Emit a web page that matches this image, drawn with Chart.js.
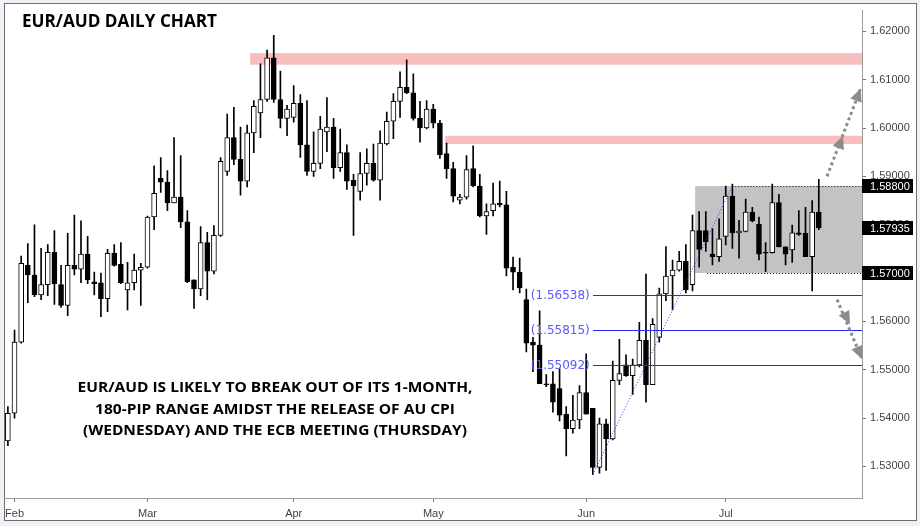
<!DOCTYPE html>
<html>
<head>
<meta charset="utf-8">
<script src="https://cdn.jsdelivr.net/npm/chart.js@4.4.0/dist/chart.umd.min.js"></script>
<style>
  html, body { margin: 0; padding: 0; background: #eef1f5; }
  #wrap { width: 920px; height: 526px; }
</style>
</head>
<body>
<div id="wrap"><canvas id="chart" width="920" height="526"></canvas></div>
<script>
// EUR/AUD daily candles, Jan 31 2018 .. Jul 20 2018
const open = [
  1.5353, 1.5410, 1.5557, 1.5716, 1.5696, 1.5655, 1.5676, 1.5743, 1.5676, 1.5633,
  1.5716, 1.5708, 1.5739, 1.5682, 1.5680, 1.5647, 1.5741, 1.5718, 1.5665, 1.5680,
  1.5706, 1.5712, 1.5816, 1.5896, 1.5888, 1.5845, 1.5857, 1.5806, 1.5686, 1.5667,
  1.5763, 1.5704, 1.5778, 1.5910, 1.5980, 1.5935, 1.5890, 1.5990, 1.6031, 1.6059,
  1.6145, 1.6059, 1.6020, 1.6022, 1.6051, 1.5965, 1.5910, 1.5927, 1.5992, 1.6002,
  1.5918, 1.5949, 1.5892, 1.5869, 1.5906, 1.5927, 1.5892, 1.5967, 1.6014, 1.6055,
  1.6084, 1.6073, 1.6020, 1.6000, 1.6039, 1.6010, 1.5947, 1.5916, 1.5851, 1.5857,
  1.5916, 1.5880, 1.5818, 1.5829, 1.5845, 1.5841, 1.5712, 1.5702, 1.5645, 1.5557,
  1.5551, 1.5471, 1.5471, 1.5461, 1.5408, 1.5378, 1.5396, 1.5453, 1.5420, 1.5298,
  1.5388, 1.5357, 1.5478, 1.5510, 1.5488, 1.5510, 1.5561, 1.5469, 1.5567, 1.5657,
  1.5694, 1.5706, 1.5724, 1.5676, 1.5788, 1.5788, 1.5739, 1.5734, 1.5776, 1.5859,
  1.5783, 1.5786, 1.5826, 1.5801, 1.5742, 1.5742, 1.5846, 1.5754, 1.5748, 1.5783,
  1.5782, 1.5734, 1.5826
];
const high = [
  1.5424, 1.5582, 1.5735, 1.5761, 1.5800, 1.5751, 1.5759, 1.5788, 1.5716, 1.5782,
  1.5820, 1.5808, 1.5776, 1.5702, 1.5700, 1.5749, 1.5759, 1.5763, 1.5722, 1.5739,
  1.5720, 1.5818, 1.5922, 1.5939, 1.5912, 1.5980, 1.5943, 1.5829, 1.5686, 1.5796,
  1.5784, 1.5798, 1.5939, 1.6029, 1.6043, 1.6002, 1.6006, 1.6057, 1.6133, 1.6161,
  1.6192, 1.6118, 1.6047, 1.6088, 1.6069, 1.6057, 1.5992, 1.6024, 1.6063, 1.6020,
  1.5998, 1.5965, 1.5904, 1.5949, 1.5957, 1.5967, 1.5994, 1.6033, 1.6071, 1.6116,
  1.6141, 1.6112, 1.6055, 1.6057, 1.6049, 1.6016, 1.5969, 1.5929, 1.5863, 1.5943,
  1.5963, 1.5904, 1.5843, 1.5886, 1.5890, 1.5869, 1.5733, 1.5731, 1.5667, 1.5567,
  1.5622, 1.5490, 1.5496, 1.5502, 1.5424, 1.5447, 1.5467, 1.5533, 1.5420, 1.5400,
  1.5398, 1.5518, 1.5563, 1.5531, 1.5522, 1.5598, 1.5698, 1.5606, 1.5669, 1.5755,
  1.5727, 1.5745, 1.5759, 1.5820, 1.5827, 1.5827, 1.5792, 1.5812, 1.5880, 1.5884,
  1.5809, 1.5853, 1.5836, 1.5816, 1.5763, 1.5884, 1.5863, 1.5754, 1.5799, 1.5829,
  1.5836, 1.5850, 1.5894
];
const low = [
  1.5343, 1.5400, 1.5555, 1.5639, 1.5651, 1.5645, 1.5653, 1.5635, 1.5629, 1.5612,
  1.5696, 1.5680, 1.5678, 1.5655, 1.5610, 1.5620, 1.5714, 1.5678, 1.5624, 1.5665,
  1.5633, 1.5710, 1.5790, 1.5867, 1.5829, 1.5845, 1.5794, 1.5680, 1.5627, 1.5653,
  1.5645, 1.5698, 1.5776, 1.5902, 1.5924, 1.5861, 1.5878, 1.5949, 1.5980, 1.6055,
  1.6053, 1.6000, 1.5984, 1.6012, 1.5939, 1.5902, 1.5900, 1.5916, 1.5951, 1.5896,
  1.5910, 1.5873, 1.5778, 1.5851, 1.5882, 1.5890, 1.5851, 1.5965, 1.5978, 1.6022,
  1.6071, 1.6016, 1.5971, 1.5998, 1.6000, 1.5937, 1.5896, 1.5847, 1.5843, 1.5853,
  1.5878, 1.5816, 1.5780, 1.5818, 1.5837, 1.5694, 1.5665, 1.5659, 1.5537, 1.5496,
  1.5471, 1.5465, 1.5412, 1.5394, 1.5322, 1.5369, 1.5378, 1.5408, 1.5283, 1.5286,
  1.5292, 1.5355, 1.5469, 1.5486, 1.5449, 1.5506, 1.5433, 1.5469, 1.5557, 1.5643,
  1.5624, 1.5704, 1.5659, 1.5663, 1.5712, 1.5745, 1.5717, 1.5724, 1.5758, 1.5751,
  1.5731, 1.5785, 1.5806, 1.5727, 1.5703, 1.5741, 1.5754, 1.5717, 1.5722, 1.5778,
  1.5734, 1.5663, 1.5790
];
const close = [
  1.5410, 1.5557, 1.5720, 1.5696, 1.5655, 1.5676, 1.5743, 1.5678, 1.5633, 1.5716,
  1.5708, 1.5739, 1.5686, 1.5678, 1.5647, 1.5741, 1.5716, 1.5680, 1.5680, 1.5706,
  1.5712, 1.5816, 1.5865, 1.5888, 1.5845, 1.5857, 1.5806, 1.5682, 1.5667, 1.5763,
  1.5704, 1.5778, 1.5931, 1.5980, 1.5935, 1.5890, 1.5990, 1.6045, 1.6059, 1.6145,
  1.6059, 1.6020, 1.6039, 1.6051, 1.5965, 1.5910, 1.5927, 1.5998, 1.6002, 1.5918,
  1.5949, 1.5890, 1.5880, 1.5906, 1.5927, 1.5892, 1.5969, 1.6014, 1.6055, 1.6084,
  1.6073, 1.6020, 1.6000, 1.6039, 1.6010, 1.5945, 1.5916, 1.5859, 1.5857, 1.5914,
  1.5880, 1.5818, 1.5827, 1.5843, 1.5841, 1.5710, 1.5702, 1.5669, 1.5555, 1.5551,
  1.5471, 1.5469, 1.5433, 1.5406, 1.5378, 1.5396, 1.5453, 1.5408, 1.5298, 1.5388,
  1.5357, 1.5478, 1.5492, 1.5488, 1.5510, 1.5561, 1.5469, 1.5594, 1.5657, 1.5694,
  1.5706, 1.5724, 1.5665, 1.5788, 1.5749, 1.5765, 1.5734, 1.5771, 1.5859, 1.5783,
  1.5787, 1.5826, 1.5808, 1.5739, 1.5741, 1.5846, 1.5754, 1.5739, 1.5783, 1.5780,
  1.5734, 1.5826, 1.57935
];

const firstDay = '2018-01-31';
const slotCount = 129;            // candles plus empty space on the right
const monthTicks = ['2018-02-01', '2018-03-01', '2018-04-02', '2018-05-01', '2018-06-01', '2018-07-02'];
const monthLabels = ['Feb', 'Mar', 'Apr', 'May', 'Jun', 'Jul'];
const priceTicks = [1.53, 1.54, 1.55, 1.56, 1.57, 1.58, 1.59, 1.60, 1.61, 1.62];
const yMin = 1.52347, yMax = 1.62429;

// drawings on the chart
const resistanceZones = [
  { from: 36.45, top: 1.6155, bottom: 1.6131 },
  { from: 65.8, top: 1.5984, bottom: 1.5967 }
];
const rangeBox = { from: 103.4, top: 1.5880, bottom: 1.5700 };
const swingLow = { idx: 88, price: 1.5283 };
const swingHigh = { idx: 109, price: 1.5880 };
const rangeBottomFrom = 105.2;
const fibLevels = [1.56538, 1.55815, 1.55092];
const priceMarkers = [1.58800, 1.57935, 1.57000];
const arrows = [
  [[123.24, 1.5900], [125.65, 1.5984], [128.3, 1.6082]],
  [[124.75, 1.5645], [126.7, 1.5594], [128.5, 1.5522]]
];
const noteLines = [
  'EUR/AUD IS LIKELY TO BREAK OUT OF ITS 1-MONTH,',
  '180-PIP RANGE AMIDST THE RELEASE OF AU CPI',
  '(WEDNESDAY) AND THE ECB MEETING (THURSDAY)'
];

// weekday labels
const dates = [];
for (let d = new Date(firstDay + 'T00:00:00Z'); dates.length < slotCount; d.setUTCDate(d.getUTCDate() + 1)) {
  const wd = d.getUTCDay();
  if (wd !== 0 && wd !== 6) dates.push(d.toISOString().slice(0, 10));
}
const monthIdx = monthTicks.map(m => dates.indexOf(m));

const bodies = open.map((o, i) => [o, close[i]]);
const wicks = low.map((l, i) => [l, high[i]]);

function fitText(ctx, text, x, y, width, align) {
  const w = ctx.measureText(text).width;
  const s = width / w;
  ctx.save();
  ctx.translate(x, y);
  ctx.scale(s, 1);
  ctx.textAlign = align;
  ctx.fillText(text, 0, 0);
  ctx.restore();
}

function arrowHead(ctx, from, to, len, half) {
  const ang = Math.atan2(to[1] - from[1], to[0] - from[0]);
  ctx.beginPath();
  ctx.moveTo(to[0], to[1]);
  ctx.lineTo(to[0] - len * Math.cos(ang) + half * Math.sin(ang), to[1] - len * Math.sin(ang) - half * Math.cos(ang));
  ctx.lineTo(to[0] - len * Math.cos(ang) - half * Math.sin(ang), to[1] - len * Math.sin(ang) + half * Math.cos(ang));
  ctx.closePath();
  ctx.fill();
}

const drawings = {
  id: 'drawings',
  beforeDraw(chart) {
    const { ctx, width, height } = chart;
    ctx.save();
    ctx.fillStyle = '#eef1f5';
    ctx.fillRect(0, 0, width, height);
    ctx.fillStyle = '#fff';
    ctx.fillRect(4, 4, 912, 517);
    ctx.strokeStyle = '#6e6e6e';
    ctx.lineWidth = 1;
    ctx.strokeRect(4.5, 3.5, 912, 517);
    ctx.restore();
  },
  beforeDatasetsDraw(chart) {
    const { ctx, chartArea: a, scales: { x, y } } = chart;
    ctx.save();
    ctx.beginPath();
    ctx.rect(a.left, a.top, a.right - a.left, a.bottom - a.top);
    ctx.clip();

    ctx.fillStyle = 'rgba(240,110,110,0.45)';
    resistanceZones.forEach(z => {
      const x0 = x.getPixelForValue(z.from);
      const t = y.getPixelForValue(z.top), b = y.getPixelForValue(z.bottom);
      ctx.fillRect(x0, t, a.right - x0, b - t);
    });

    const bx = x.getPixelForValue(rangeBox.from);
    const bt = y.getPixelForValue(rangeBox.top), bb = y.getPixelForValue(rangeBox.bottom);
    ctx.fillStyle = '#c3c3c3';
    ctx.fillRect(bx, bt, a.right - bx, bb - bt);
    ctx.restore();
  },
  afterDatasetsDraw(chart) {
    const { ctx, chartArea: a, scales: { x, y } } = chart;
    ctx.save();
    ctx.beginPath();
    ctx.rect(a.left, a.top, a.right - a.left, a.bottom - a.top);
    ctx.clip();

    // range edges
    ctx.strokeStyle = '#000';
    ctx.lineWidth = 1;
    ctx.setLineDash([1, 2]);
    const yt = Math.round(y.getPixelForValue(swingHigh.price)) + 0.5;
    const yb = Math.round(y.getPixelForValue(rangeBox.bottom)) + 0.5;
    ctx.beginPath();
    ctx.moveTo(x.getPixelForValue(swingHigh.idx), yt);
    ctx.lineTo(a.right, yt);
    ctx.moveTo(x.getPixelForValue(rangeBottomFrom), yb);
    ctx.lineTo(a.right, yb);
    ctx.stroke();

    // fib trend line
    ctx.strokeStyle = '#3535ff';
    ctx.beginPath();
    ctx.moveTo(x.getPixelForValue(swingLow.idx), y.getPixelForValue(swingLow.price));
    ctx.lineTo(x.getPixelForValue(swingHigh.idx), y.getPixelForValue(swingHigh.price));
    ctx.stroke();
    ctx.setLineDash([]);

    // fib levels
    const fx = x.getPixelForValue(swingLow.idx);
    ctx.font = '12px "DejaVu Sans"';
    ctx.textBaseline = 'middle';
    fibLevels.forEach(v => {
      const ly = Math.round(y.getPixelForValue(v));
      ctx.fillStyle = '#2828ff';
      ctx.fillRect(Math.round(fx), ly, a.right - Math.round(fx), 1);
      ctx.fillStyle = '#5a5aff';
      ctx.textAlign = 'right';
      ctx.fillText('(' + v.toFixed(5) + ')', fx - 3, ly + 0.5);
    });

    // arrows
    ctx.strokeStyle = '#8c8c8c';
    ctx.fillStyle = '#8c8c8c';
    arrows.forEach(pts => {
      const p = pts.map(q => [x.getPixelForValue(q[0]), y.getPixelForValue(q[1])]);
      ctx.lineWidth = 3;
      ctx.setLineDash([3, 3]);
      ctx.beginPath();
      ctx.moveTo(p[0][0], p[0][1]);
      ctx.lineTo(p[2][0], p[2][1]);
      ctx.stroke();
      ctx.setLineDash([]);
      arrowHead(ctx, p[0], p[1], 13, 6);
      arrowHead(ctx, p[0], p[2], 13, 6);
    });
    ctx.restore();
  },
  afterDraw(chart) {
    const { ctx, chartArea: a, scales: { y } } = chart;
    ctx.save();
    // price markers on the axis
    ctx.font = '11px "Liberation Sans"';
    ctx.textBaseline = 'middle';
    ctx.textAlign = 'left';
    priceMarkers.forEach(v => {
      const py = Math.round(y.getPixelForValue(v));
      ctx.fillStyle = '#000';
      ctx.fillRect(a.right, py - 7, 51, 14);
      ctx.fillStyle = '#fff';
      ctx.fillText(v.toFixed(5), a.right + 8, py + 0.5);
    });

    // title
    ctx.fillStyle = '#000';
    ctx.textBaseline = 'alphabetic';
    ctx.font = 'bold 18.5px "Open Sans"';
    fitText(ctx, 'EUR/AUD DAILY CHART', 22, 27, 195, 'left');

    // note
    ctx.font = 'bold 14px "Open Sans"';
    const widths = [395, 360, 384];
    const base = [392, 413.5, 435];
    noteLines.forEach((t, i) => fitText(ctx, t, 275, base[i], widths[i], 'center'));
    ctx.restore();
  }
};

new Chart(document.getElementById('chart'), {
  type: 'bar',
  data: {
    labels: dates,
    datasets: [
      {
        data: bodies,
        order: 1,
        grouped: false,
        barThickness: 5,
        minBarLength: 1,
        borderSkipped: false,
        borderWidth: 1,
        borderColor: '#000',
        backgroundColor: c => close[c.dataIndex] >= open[c.dataIndex] ? '#fff' : '#000'
      },
      {
        data: wicks,
        order: 2,
        grouped: false,
        barThickness: 1,
        borderWidth: 0,
        backgroundColor: '#000'
      }
    ]
  },
  options: {
    responsive: false,
    devicePixelRatio: 1,
    animation: false,
    layout: { padding: { left: 4, top: 4, right: 4, bottom: 5 } },
    plugins: { legend: { display: false }, tooltip: { enabled: false } },
    scales: {
      x: {
        type: 'category',
        offset: true,
        grid: { drawOnChartArea: false, offset: false, tickLength: 4, color: '#777' },
        border: { display: true, color: '#9a9a9a' },
        ticks: {
          autoSkip: false,
          maxRotation: 0,
          padding: 5,
          color: '#444',
          font: { family: 'Liberation Sans', size: 11 },
          callback: (v, i) => monthLabels[i]
        },
        afterBuildTicks: s => { s.ticks = monthIdx.map(i => ({ value: i })); },
        afterFit: s => { s.height = 23; }
      },
      y: {
        type: 'linear',
        position: 'right',
        min: yMin,
        max: yMax,
        grid: { drawOnChartArea: false, tickLength: 4, color: '#777' },
        border: { display: true, color: '#9a9a9a' },
        ticks: {
          padding: 4,
          color: '#444',
          font: { family: 'Liberation Sans', size: 11 },
          callback: v => v.toFixed(5)
        },
        afterBuildTicks: s => { s.ticks = priceTicks.map(v => ({ value: v })); },
        afterFit: s => { s.width = 54; }
      }
    }
  },
  plugins: [drawings]
});
</script>
</body>
</html>
